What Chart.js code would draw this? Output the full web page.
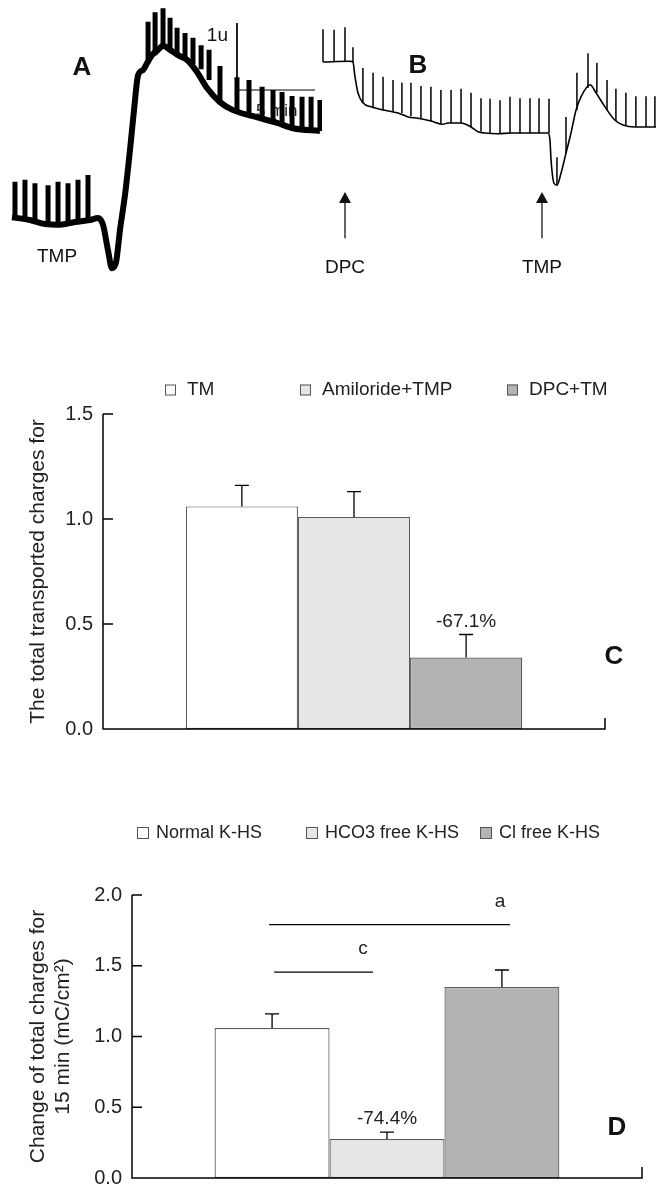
<!DOCTYPE html>
<html>
<head>
<meta charset="utf-8">
<script src="https://cdn.jsdelivr.net/npm/chart.js@4.4.1/dist/chart.umd.min.js"></script>
<style>
  html, body { margin: 0; padding: 0; background: #fff; }
  #page { position: relative; width: 656px; height: 1191px; overflow: hidden; }
  canvas { position: absolute; }
</style>
</head>
<body>
<div id="page">
  <canvas id="traceA" width="322" height="290" style="left:0;top:0"></canvas>
  <canvas id="traceB" width="334" height="290" style="left:322px;top:0"></canvas>
  <canvas id="chartC" width="656" height="410" style="left:0;top:350px"></canvas>
  <canvas id="chartD" width="656" height="400" style="left:0;top:800px"></canvas>
</div>
<script>
// TRACE A (time in min, current in u)
const traceATime = [0, 1.15, 2.12, 3.08, 4.04, 5.0, 5.51, 5.83, 6.15, 6.41, 6.67, 6.92, 7.24, 7.56, 7.82, 8.08, 8.40, 8.65, 8.97, 9.36, 9.68, 10.13, 10.64, 11.22, 11.86, 12.50, 13.33, 14.17, 15.45, 16.99, 18.01, 19.74];
const traceACurrent = [0.01, -0.03, -0.09, -0.10, -0.06, -0.03, 0, -0.10, -0.48, -0.75, -0.66, -0.18, 0.34, 1.01, 1.61, 2.13, 2.21, 2.31, 2.43, 2.51, 2.57, 2.51, 2.43, 2.36, 2.18, 1.94, 1.73, 1.61, 1.52, 1.42, 1.34, 1.30];
const spikesATime = [0.19, 0.83, 1.47, 2.31, 2.95, 3.59, 4.23, 4.87, 8.72, 9.17, 9.68, 10.13, 10.58, 11.09, 11.60, 12.12, 12.63, 13.33, 14.42, 15.19, 16.03, 16.73, 17.31, 17.95, 18.59, 19.17, 19.74];
const spikesABase = [0, -0.04, -0.06, -0.09, -0.10, -0.07, -0.06, -0.03, 2.31, 2.43, 2.57, 2.51, 2.45, 2.39, 2.30, 2.22, 2.06, 1.73, 1.61, 1.55, 1.49, 1.45, 1.42, 1.37, 1.34, 1.33, 1.30];
const spikesATop = [0.54, 0.57, 0.52, 0.49, 0.54, 0.52, 0.57, 0.64, 2.93, 3.07, 3.13, 2.99, 2.84, 2.76, 2.69, 2.58, 2.51, 2.27, 2.10, 2.06, 1.96, 1.91, 1.88, 1.82, 1.81, 1.81, 1.76];
// calibration bar: 1 u and 5 min
const calibTime = [14.42, 14.42, 19.42];
const calibCurrent = [2.91, 1.91, 1.91];

// TRACE B
const traceBTime = [0, 1.73, 1.92, 2.05, 2.24, 2.56, 3.08, 3.97, 4.81, 5.45, 6.09, 6.92, 7.69, 8.01, 8.85, 9.42, 9.94, 10.38, 11.22, 12.05, 12.95, 14.42, 14.55, 14.62, 14.81, 15.0, 15.26, 15.58, 15.90, 16.22, 16.54, 17.12, 17.50, 18.08, 18.72, 19.23, 20.0, 21.35];
const traceBCurrent = [0, 0.01, 0, -0.22, -0.46, -0.61, -0.67, -0.72, -0.76, -0.82, -0.84, -0.88, -0.93, -0.91, -0.91, -0.96, -1.04, -1.06, -1.07, -1.06, -1.06, -1.06, -1.16, -1.46, -1.81, -1.84, -1.66, -1.36, -1.06, -0.72, -0.52, -0.34, -0.46, -0.67, -0.87, -0.94, -0.97, -0.97];
const spikesBTime = [0, 0.71, 1.41, 1.92, 2.56, 3.21, 3.85, 4.49, 5.06, 5.64, 6.28, 6.92, 7.56, 8.21, 8.85, 9.49, 10.13, 10.71, 11.35, 11.99, 12.63, 13.27, 13.85, 14.49, 15.0, 15.58, 16.28, 16.99, 17.56, 18.21, 18.78, 19.42, 20.06, 20.71, 21.28];
const spikesBBase = [0, 0, 0, 0, -0.61, -0.69, -0.72, -0.73, -0.76, -0.81, -0.84, -0.88, -0.91, -0.91, -0.91, -0.97, -1.04, -1.06, -1.07, -1.06, -1.06, -1.06, -1.06, -1.06, -1.84, -1.36, -0.72, -0.39, -0.46, -0.72, -0.88, -0.94, -0.97, -0.97, -0.97];
const spikesBTop = [0.49, 0.48, 0.52, 0.22, -0.09, -0.16, -0.22, -0.27, -0.31, -0.31, -0.36, -0.37, -0.42, -0.42, -0.40, -0.46, -0.54, -0.55, -0.57, -0.52, -0.54, -0.54, -0.54, -0.55, -1.42, -0.82, -0.16, 0.13, -0.01, -0.27, -0.40, -0.46, -0.51, -0.51, -0.51];
const eventBTime = [1.41, 14.04];
const eventBLabel = ["DPC", "TMP"];

// CHART C
const groupsC = ["TM", "Amiloride+TMP", "DPC+TM"];
const valuesC = [1.06, 1.01, 0.34];
const errorsC = [0.10, 0.12, 0.11];
const notesC = ["", "", "-67.1%"];
const yTicksC = [0, 0.5, 1.0, 1.5];

// CHART D
const groupsD = ["Normal K-HS", "HCO3 free K-HS", "Cl free K-HS"];
const valuesD = [1.06, 0.276, 1.35];
const errorsD = [0.10, 0.048, 0.12];
const notesD = ["", "-74.4%", ""];
const yTicksD = [0, 0.5, 1.0, 1.5, 2.0];
const sigFrom = [0, 0];
const sigTo = [2, 1];
const sigLevel = [1.79, 1.455];
const sigLabel = ["a", "c"];

const FONT = '"Liberation Sans", Arial, Helvetica, sans-serif';
const fills = ["#ffffff", "#e6e6e6", "#b3b3b3"];

function toPoints(xs, ys) {
  return xs.map((x, i) => ({ x: x, y: ys[i] }));
}

// each spike is a vertical stroke, separated by a gap
function spikeSegments(times, base, top) {
  const pts = [];
  times.forEach((t, i) => {
    pts.push({ x: t, y: base[i] }, { x: t, y: top[i] }, { x: t, y: null });
  });
  return pts;
}

function traceOptions(xMin, xMax, yMin, yMax) {
  return {
    responsive: false,
    animation: false,
    events: [],
    layout: { padding: 0 },
    plugins: { legend: { display: false }, tooltip: { enabled: false } },
    scales: {
      x: { type: "linear", display: false, min: xMin, max: xMax },
      y: { type: "linear", display: false, min: yMin, max: yMax },
    },
  };
}

// TRACE A
const traceALabels = {
  id: "traceALabels",
  beforeDatasetsDraw(chart) {
    const ctx = chart.ctx;
    const xs = chart.scales.x;
    const ys = chart.scales.y;
    ctx.save();
    ctx.fillStyle = "#222";
    ctx.font = "17px " + FONT;
    ctx.textBaseline = "middle";
    ctx.fillText("5 min", xs.getPixelForValue(calibTime[1]) + 19, ys.getPixelForValue(calibCurrent[1]) + 21);
    ctx.restore();
  },
  afterDraw(chart) {
    const ctx = chart.ctx;
    const xs = chart.scales.x;
    const ys = chart.scales.y;
    ctx.save();
    ctx.fillStyle = "#111";
    ctx.textBaseline = "middle";
    ctx.textAlign = "right";
    ctx.font = "19px " + FONT;
    ctx.fillText("1u", xs.getPixelForValue(calibTime[0]) - 9, ys.getPixelForValue(calibCurrent[0]) + 13);
    ctx.textAlign = "center";
    ctx.fillText("TMP", 57, 257);
    ctx.font = "bold 26px " + FONT;
    ctx.fillText("A", 82, 68);
    ctx.restore();
  },
};

new Chart(document.getElementById("traceA"), {
  type: "line",
  data: {
    datasets: [
      {
        data: toPoints(traceATime, traceACurrent),
        borderColor: "#000",
        borderWidth: 6,
        pointRadius: 0,
        cubicInterpolationMode: "monotone",
        borderJoinStyle: "round",
        clip: false,
      },
      {
        data: spikeSegments(spikesATime, spikesABase, spikesATop),
        borderColor: "#000",
        borderWidth: 5,
        pointRadius: 0,
        clip: false,
      },
      {
        data: toPoints(calibTime, calibCurrent),
        borderColor: "#000",
        borderWidth: 1,
        pointRadius: 0,
        clip: false,
      },
    ],
  },
  options: traceOptions(-0.77, 19.87, -1.075, 3.254),
  plugins: [traceALabels],
});

// TRACE B
const traceBLabels = {
  id: "traceBLabels",
  afterDraw(chart) {
    const ctx = chart.ctx;
    const xs = chart.scales.x;
    const ys = chart.scales.y;
    ctx.save();
    ctx.fillStyle = "#111";
    ctx.strokeStyle = "#000";
    ctx.lineWidth = 1.2;
    ctx.textAlign = "center";
    ctx.textBaseline = "middle";
    ctx.font = "19px " + FONT;
    eventBTime.forEach((t, i) => {
      const x = xs.getPixelForValue(t);
      const tip = ys.getPixelForValue(-1.94);
      const end = ys.getPixelForValue(-2.63);
      ctx.beginPath();
      ctx.moveTo(x, tip + 8);
      ctx.lineTo(x, end);
      ctx.stroke();
      ctx.beginPath();
      ctx.moveTo(x, tip);
      ctx.lineTo(x - 6, tip + 11);
      ctx.lineTo(x + 6, tip + 11);
      ctx.closePath();
      ctx.fill();
      ctx.fillText(eventBLabel[i], x, end + 30);
    });
    ctx.font = "bold 26px " + FONT;
    ctx.fillText("B", 96, 66);
    ctx.restore();
  },
};

new Chart(document.getElementById("traceB"), {
  type: "line",
  data: {
    datasets: [
      {
        data: toPoints(traceBTime, traceBCurrent),
        borderColor: "#000",
        borderWidth: 1.6,
        pointRadius: 0,
        cubicInterpolationMode: "monotone",
        clip: false,
      },
      {
        data: spikeSegments(spikesBTime, spikesBBase, spikesBTop),
        borderColor: "#000",
        borderWidth: 1.5,
        pointRadius: 0,
        clip: false,
      },
    ],
  },
  options: traceOptions(-0.064, 21.35, -3.403, 0.925),
  plugins: [traceBLabels],
});

// BAR CHARTS C AND D
function barExtras(cfg) {
  return {
    id: "barExtras",
    afterDatasetsDraw(chart) {
      const ctx = chart.ctx;
      const ys = chart.scales.y;
      const a = chart.chartArea;
      ctx.save();
      // axes, closing tick and inward ticks
      ctx.strokeStyle = "#000";
      ctx.lineWidth = 1.5;
      ctx.beginPath();
      ctx.moveTo(a.left, a.top);
      ctx.lineTo(a.left, a.bottom);
      ctx.lineTo(a.right, a.bottom);
      ctx.lineTo(a.right, a.bottom - 11);
      ys.ticks.forEach((t) => {
        const py = ys.getPixelForValue(t.value);
        ctx.moveTo(a.left, py);
        ctx.lineTo(a.left + 10, py);
      });
      ctx.stroke();

      // error bars and notes
      ctx.lineWidth = 1.3;
      ctx.fillStyle = "#222";
      ctx.textAlign = "center";
      ctx.textBaseline = "middle";
      ctx.font = "19px " + FONT;
      cfg.values.forEach((v, i) => {
        const bar = chart.getDatasetMeta(i).data[0];
        const top = ys.getPixelForValue(v + cfg.errors[i]);
        ctx.beginPath();
        ctx.moveTo(bar.x, bar.y);
        ctx.lineTo(bar.x, top);
        ctx.moveTo(bar.x - 7, top);
        ctx.lineTo(bar.x + 7, top);
        ctx.stroke();
        if (cfg.notes[i]) ctx.fillText(cfg.notes[i], bar.x, top - 13);
      });

      // significance lines
      (cfg.sig || []).forEach((s) => {
        const x1 = chart.getDatasetMeta(s.from).data[0].x + s.inset[0];
        const x2 = chart.getDatasetMeta(s.to).data[0].x + s.inset[1];
        const py = ys.getPixelForValue(s.level);
        ctx.beginPath();
        ctx.moveTo(x1, py);
        ctx.lineTo(x2, py);
        ctx.stroke();
        ctx.fillText(s.label, x2 - 10, py - 23);
      });

      // legend
      ctx.textAlign = "left";
      ctx.font = cfg.legendFont + "px " + FONT;
      ctx.lineWidth = 1;
      ctx.strokeStyle = "#555";
      cfg.groups.forEach((g, i) => {
        const bx = cfg.legendX[i];
        const s = cfg.legendBox;
        ctx.fillStyle = fills[i];
        ctx.fillRect(bx, cfg.legendY - s / 2, s, s);
        ctx.strokeRect(bx + 0.5, cfg.legendY - s / 2 + 0.5, s - 1, s - 1);
        ctx.fillStyle = "#222";
        ctx.fillText(g, bx + cfg.legendGap, cfg.legendY);
      });

      // panel letter
      ctx.fillStyle = "#111";
      ctx.textAlign = "center";
      ctx.font = "bold 26px " + FONT;
      ctx.fillText(cfg.letter, cfg.letterX, cfg.letterY);
      ctx.restore();
    },
  };
}

function barChart(id, cfg) {
  return new Chart(document.getElementById(id), {
    type: "bar",
    data: {
      labels: [""],
      datasets: cfg.groups.map((g, i) => ({
        label: g,
        data: [cfg.values[i]],
        backgroundColor: fills[i],
        borderColor: "#5a5a5a",
        borderWidth: 1.2,
        borderSkipped: false,
        barPercentage: 1,
        categoryPercentage: cfg.groupWidth,
      })),
    },
    options: {
      responsive: false,
      animation: false,
      events: [],
      layout: { padding: cfg.padding },
      plugins: { legend: { display: false }, tooltip: { enabled: false } },
      scales: {
        x: { display: false },
        y: {
          min: 0,
          max: cfg.ticks[cfg.ticks.length - 1],
          afterFit: (s) => {
            s.width = cfg.axisLeft;
          },
          afterBuildTicks: (s) => {
            s.ticks = cfg.ticks.map((v) => ({ value: v }));
          },
          grid: { display: false, drawTicks: false },
          border: { display: false },
          ticks: {
            padding: 10,
            color: "#222",
            font: { family: FONT, size: 20 },
            callback: (v) => Number(v).toFixed(1),
          },
          title: {
            display: true,
            text: cfg.title,
            color: "#222",
            font: { family: FONT, size: 21, lineHeight: 1.2 },
            padding: { top: 25.4, bottom: 0 },
          },
        },
      },
    },
    plugins: [barExtras(cfg)],
  });
}

barChart("chartC", {
  groups: groupsC,
  values: valuesC,
  errors: errorsC,
  notes: notesC,
  ticks: yTicksC,
  title: "The total transported charges for",
  padding: { top: 64, right: 51, bottom: 31, left: 0 },
  axisLeft: 103,
  groupWidth: 0.67,
  legendX: [165, 300, 507],
  legendY: 40,
  legendBox: 11,
  legendGap: 22,
  legendFont: 19,
  letter: "C",
  letterX: 614,
  letterY: 307,
});

barChart("chartD", {
  groups: groupsD,
  values: valuesD,
  errors: errorsD,
  notes: notesD,
  ticks: yTicksD,
  title: ["Change of total charges for", "15 min (mC/cm\u00B2)"],
  padding: { top: 95, right: 14, bottom: 15, left: 0 },
  axisLeft: 132,
  groupWidth: 0.676,
  legendX: [137, 306, 480],
  legendY: 33,
  legendBox: 12,
  legendGap: 19,
  legendFont: 18,
  letter: "D",
  letterX: 617,
  letterY: 328,
  sig: sigFrom.map((f, i) => ({
    from: f,
    to: sigTo[i],
    level: sigLevel[i],
    label: sigLabel[i],
    inset: i === 0 ? [-3, 8] : [2, -14],
  })),
});
</script>
</body>
</html>
